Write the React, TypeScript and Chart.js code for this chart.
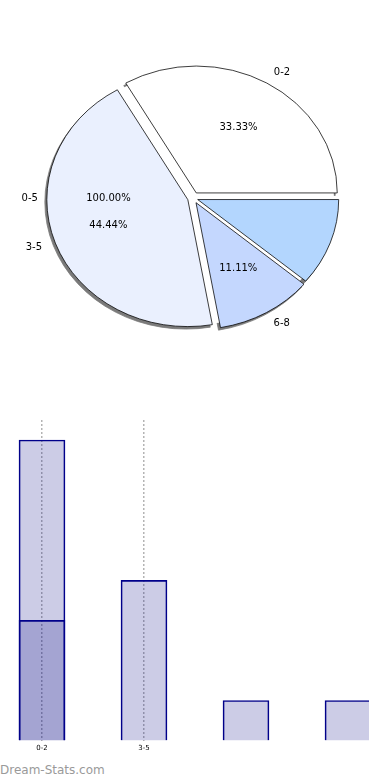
import React, { useEffect, useRef } from "react";
import { Chart, registerables } from "chart.js";

Chart.register(...registerables);

// ---- pie data (matplotlib order: counter-clockwise from 3 o'clock) ----
const pieCategories = ["0-2", "3-5", "6-8", ""];
const pieValues = [33.33, 44.44, 11.11, 11.11];
const piePctLabels = ["33.33%", "44.44%", "11.11%", ""];
const pieColors = ["#ffffff", "#eaf0fe", "#c4d7fe", "#b3d6fe"];
const pieExplode = [6.5, 5.5, 6, 5];
// a second, single-slice pie (white, no edge) whose wedge hides the inner shadows
const extraCategory = "0-5";
const extraPct = "100.00%";

// ---- bar data ----
const barCategories = ["0-2", "3-5", "6-8", "9-11"];
const barTickLabels = ["0-2", "3-5", "", ""];
const barTotals = [7.5, 4, 1, 1];
const barOverlay = [3, null, null, null];

const SY = 0.9; // vertical squash of the pie (ellipse)
const SHADOW_DX = -2;
const SHADOW_DY = 2.5;

function PieChart() {
  const ref = useRef<HTMLCanvasElement>(null);
  useEffect(() => {
    if (!ref.current) return;
    // Chart.js goes clockwise, so reverse for counter-clockwise order
    const labels = [...pieCategories].reverse();
    const data = [...pieValues].reverse();
    const colors = [...pieColors].reverse();
    const explode = [...pieExplode].reverse();
    const pcts = [...piePctLabels].reverse();

    const piePlugin = {
      id: "ellipsePie",
      beforeDatasetsDraw(chart: any) {
        const ctx = chart.ctx;
        const meta = chart.getDatasetMeta(0);
        const els = meta.data;
        const cx = els[0].x;
        const cy = els[0].y;
        const r = els[0].outerRadius;
        ctx.save();
        ctx.translate(cx, cy);
        ctx.scale(1, SY);
        ctx.translate(-cx, -cy);
        // shadows
        els.forEach((el: any, i: number) => {
          const mid = (el.startAngle + el.endAngle) / 2;
          ctx.save();
          ctx.translate(Math.cos(mid) * explode[i] + SHADOW_DX, Math.sin(mid) * explode[i] + SHADOW_DY / SY);
          const o = el.options;
          el.options = { ...o, backgroundColor: "#7a7a7a", borderColor: "#7a7a7a" };
          el.draw(ctx);
          el.options = o;
          ctx.restore();
        });
        // hidden full "0-5" wedge: white, covers the inner shadows
        ctx.beginPath();
        ctx.arc(cx, cy, r, 0, Math.PI * 2);
        ctx.fillStyle = "#ffffff";
        ctx.fill();
        // wedges
        els.forEach((el: any, i: number) => {
          const mid = (el.startAngle + el.endAngle) / 2;
          ctx.save();
          ctx.translate(Math.cos(mid) * explode[i], Math.sin(mid) * explode[i]);
          el.draw(ctx);
          ctx.restore();
        });
        ctx.restore();
        return false;
      },
      afterDraw(chart: any) {
        const ctx = chart.ctx;
        const meta = chart.getDatasetMeta(0);
        const els = meta.data;
        const cx = els[0].x;
        const cy = els[0].y;
        const r = els[0].outerRadius;
        ctx.save();
        ctx.font = "10px 'DejaVu Sans'";
        ctx.fillStyle = "#000";
        ctx.textBaseline = "middle";
        const put = (mid: number, ex: number, label: string, pct: string) => {
          const ox = cx + Math.cos(mid) * ex;
          const oy = cy + Math.sin(mid) * ex * SY;
          const lx = ox + Math.cos(mid) * r * 1.1;
          const ly = oy + Math.sin(mid) * r * 1.1 * SY;
          if (label) {
            ctx.textAlign = Math.cos(mid) > 0 ? "left" : "right";
            ctx.fillText(label, lx, ly);
          }
          if (pct) {
            ctx.textAlign = "center";
            ctx.fillText(pct, ox + Math.cos(mid) * r * 0.6, oy + Math.sin(mid) * r * 0.6 * SY);
          }
        };
        els.forEach((el: any, i: number) => {
          const mid = (el.startAngle + el.endAngle) / 2;
          put(mid, explode[i], labels[i], pcts[i]);
        });
        put(Math.PI, 0, extraCategory, extraPct);
        ctx.restore();
      },
    };

    const chart = new Chart(ref.current, {
      type: "pie",
      data: {
        labels,
        datasets: [
          {
            data,
            backgroundColor: colors,
            borderColor: "#000000",
            borderWidth: 0.8,
            radius: 141,
          } as any,
        ],
      },
      options: {
        responsive: false,
        animation: false,
        rotation: 90,
        layout: { padding: { left: 48, right: 52, top: 53, bottom: 37 } },
        plugins: { legend: { display: false }, tooltip: { enabled: false } },
      },
      plugins: [piePlugin],
    });
    return () => chart.destroy();
  }, []);
  return (
    <canvas
      ref={ref}
      width={390}
      height={380}
      style={{ position: "absolute", left: 0, top: 0, width: 390, height: 380 }}
    />
  );
}

function BarChart() {
  const ref = useRef<HTMLCanvasElement>(null);
  useEffect(() => {
    if (!ref.current) return;
    const fill = "rgba(0,0,128,0.2)";
    const edge = "#00008b";
    const clip = { left: 30, right: 21, top: 0, bottom: 0 };
    const chart = new Chart(ref.current, {
      type: "bar",
      data: {
        labels: barCategories,
        datasets: [
          {
            data: barOverlay,
            backgroundColor: fill,
            borderColor: edge,
            borderWidth: 1,
            barThickness: 46,
            grouped: false,
            clip,
          } as any,
          {
            data: barTotals,
            backgroundColor: fill,
            borderColor: edge,
            borderWidth: 1,
            barThickness: 46,
            grouped: false,
            clip,
          } as any,
        ],
      },
      options: {
        responsive: false,
        animation: false,
        layout: { padding: { left: 42, right: 42, top: 20, bottom: 0 } },
        plugins: { legend: { display: false }, tooltip: { enabled: false } },
        scales: {
          x: {
            offset: false,
            grid: {
              offset: false,
              drawTicks: false,
              color: (c: any) => (c.index < 2 ? "#b4b4b4" : "rgba(0,0,0,0)"),
              lineWidth: 1.5,
            },
            border: { display: false, dash: [2, 2] },
            ticks: {
              autoSkip: false,
              maxRotation: 0,
              padding: 3,
              color: "#000",
              font: { family: "'DejaVu Sans'", size: 7 },
              callback: (_v: any, i: number) => barTickLabels[i],
            },
          },
          y: {
            display: false,
            min: 0,
            max: 8,
          },
        },
      },
    });
    return () => chart.destroy();
  }, []);
  return (
    <canvas
      ref={ref}
      width={390}
      height={355}
      style={{ position: "absolute", left: 0, top: 400, width: 390, height: 355 }}
    />
  );
}

export default function App() {
  return (
    <div style={{ position: "absolute", left: 0, top: 0, width: 390, height: 780, background: "#fff", overflow: "hidden" }}>
      <PieChart />
      <BarChart />
      <div
        style={{
          position: "absolute",
          left: 0,
          top: 762,
          fontFamily: "'DejaVu Sans', sans-serif",
          fontSize: 12,
          color: "#9a9a9a",
          lineHeight: "16px",
        }}
      >
        Dream-Stats.com
      </div>
    </div>
  );
}
